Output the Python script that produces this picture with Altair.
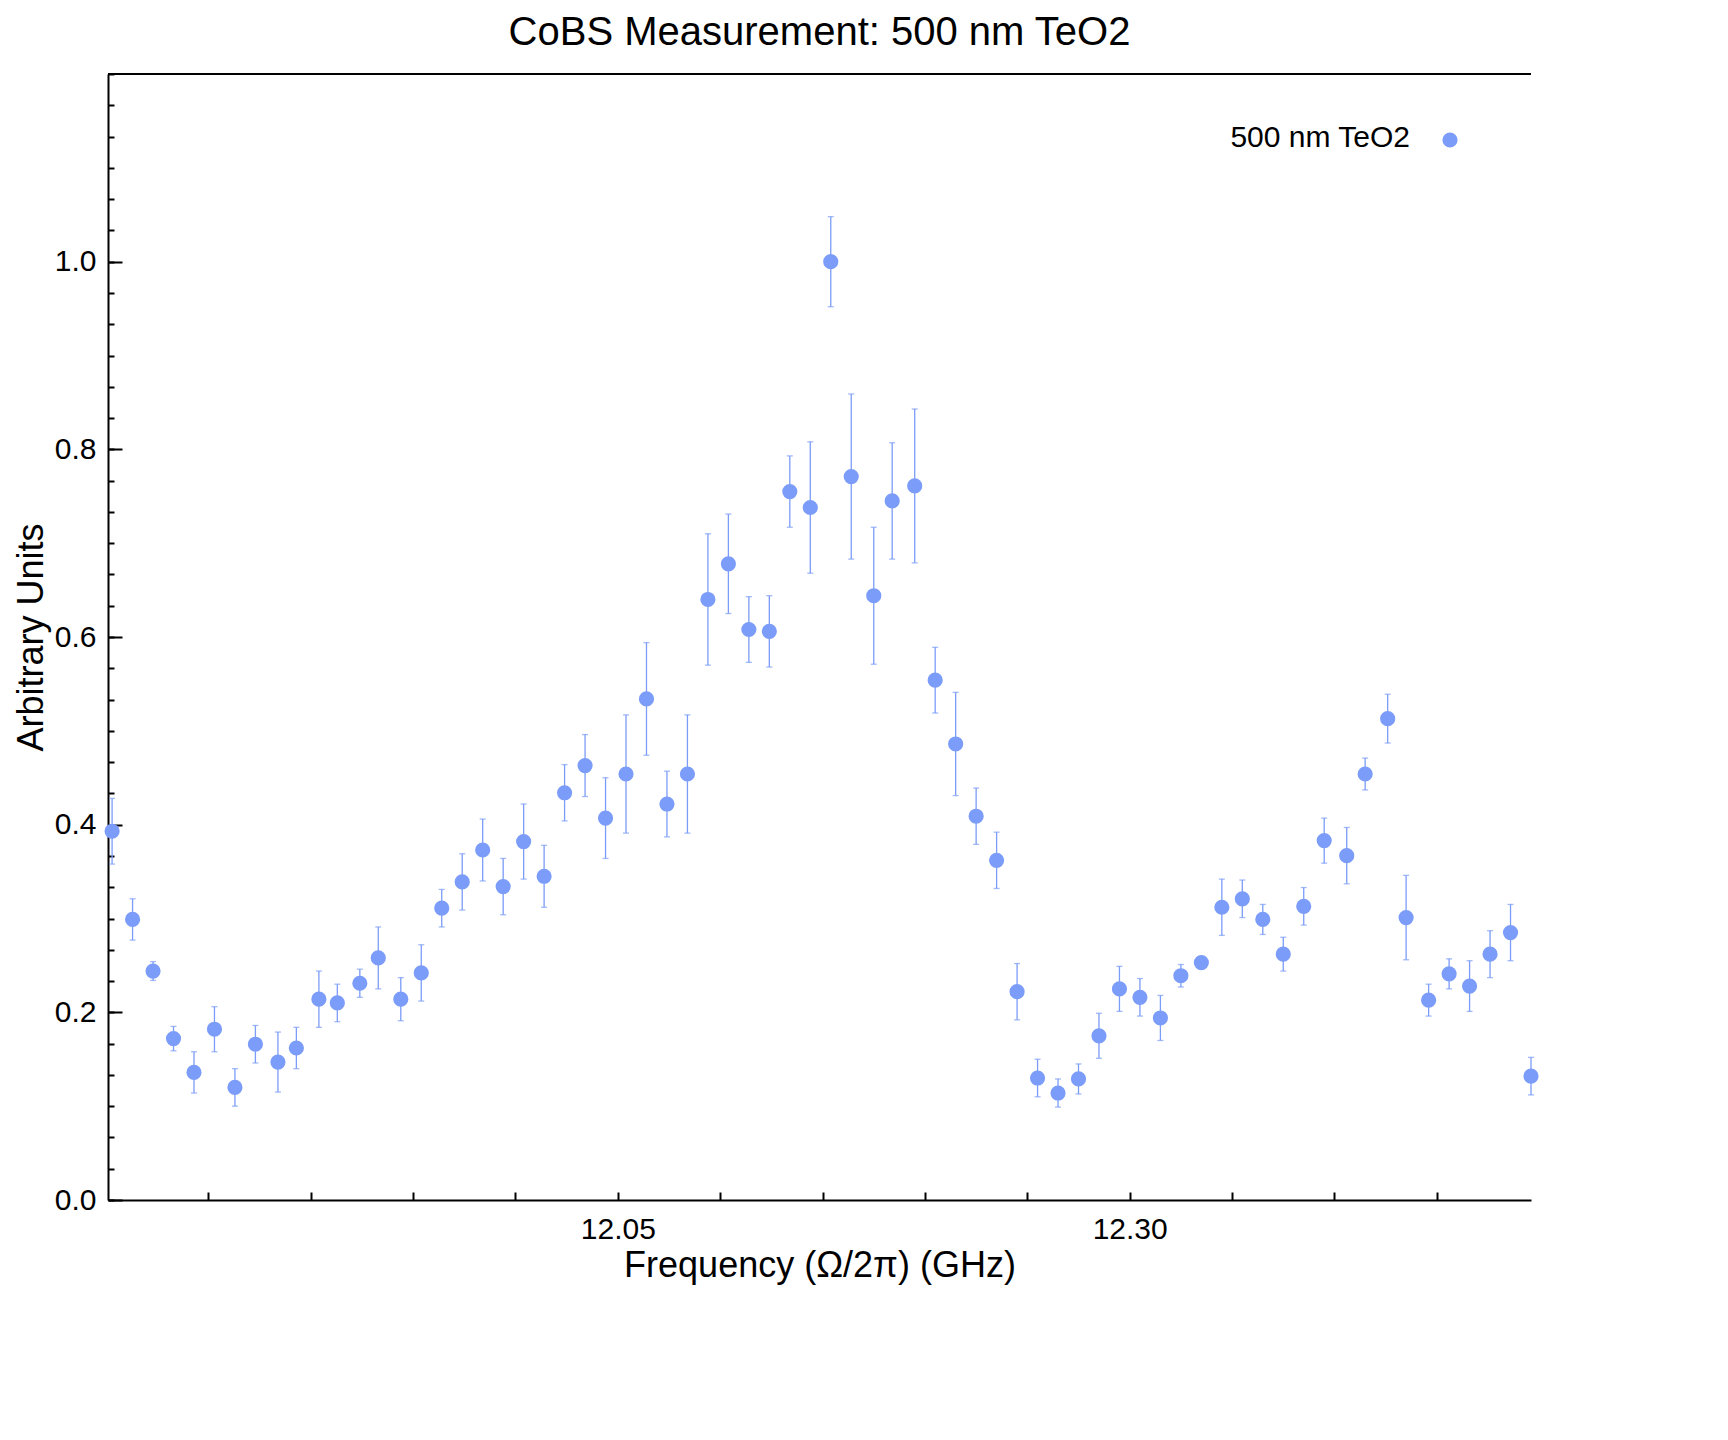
import altair as alt
import pandas as pd

freq = [11.803,11.813,11.823,11.833,11.843,11.853,11.863,11.873,11.884,11.893,
        11.904,11.913,11.924,11.933,11.944,11.954,11.964,11.974,11.984,11.994,
        12.004,12.014,12.024,12.034,12.044,12.054,12.064,12.074,12.084,12.094,
        12.104,12.114,12.124,12.134,12.144,12.154,12.164,12.175,12.184,12.195,
        12.205,12.215,12.225,12.235,12.245,12.255,12.265,12.275,12.285,12.295,
        12.305,12.315,12.325,12.335,12.345,12.355,12.365,12.375,12.385,12.395,
        12.406,12.415,12.426,12.435,12.446,12.456,12.466,12.476,12.486,12.496]
amp = [0.393,0.299,0.244,0.172,0.136,0.182,0.120,0.166,0.147,0.162,
       0.214,0.210,0.231,0.258,0.214,0.242,0.311,0.339,0.373,0.334,
       0.382,0.345,0.434,0.463,0.407,0.454,0.534,0.422,0.454,0.640,
       0.678,0.608,0.606,0.755,0.738,1.000,0.771,0.644,0.745,0.761,
       0.554,0.486,0.409,0.362,0.222,0.130,0.114,0.129,0.175,0.225,
       0.216,0.194,0.239,0.253,0.312,0.321,0.299,0.262,0.313,0.383,
       0.367,0.454,0.513,0.301,0.213,0.241,0.228,0.262,0.285,0.132]
err = [0.035,0.022,0.010,0.013,0.022,0.024,0.020,0.020,0.032,0.022,
       0.030,0.020,0.015,0.033,0.023,0.030,0.020,0.030,0.033,0.030,
       0.040,0.033,0.030,0.033,0.043,0.063,0.060,0.035,0.063,0.070,
       0.053,0.035,0.038,0.038,0.070,0.048,0.088,0.073,0.062,0.082,
       0.035,0.055,0.030,0.030,0.030,0.020,0.015,0.016,0.024,0.024,
       0.020,0.024,0.012,0.005,0.030,0.020,0.016,0.018,0.020,0.024,
       0.030,0.017,0.026,0.045,0.017,0.016,0.027,0.025,0.030,0.020]

y_major = [0.0, 0.2, 0.4, 0.6, 0.8, 1.0]
y_minor = [round(i / 30, 4) for i in range(0, 37)]
x_major = [12.05, 12.30]
x_minor = [round(11.85 + 0.05 * i, 2) for i in range(13)]

df = pd.DataFrame({"f": freq, "a": amp, "lo": [a - e for a, e in zip(amp, err)],
                   "hi": [a + e for a, e in zip(amp, err)]})

COL = "#7b9cf8"
FONT = "Liberation Sans"
xs = alt.Scale(domain=[11.801, 12.496], nice=False, zero=False)
ys = alt.Scale(domain=[0, 1.2], nice=False)

base = alt.Chart(df)

xa = alt.Axis(values=x_major, format=".2f", ticks=False, grid=False, labelFontSize=30,
              titleFontSize=36, titleFontWeight="normal", labelPadding=14, orient="bottom",
              domainColor="black", domainWidth=2, labelColor="black", titleColor="black",
              title="Frequency (Ω/2π) (GHz)", labelFont=FONT, titleFont=FONT)
ya = alt.Axis(values=y_major, format=".1f", ticks=False, grid=False, labelFontSize=30,
              titleFontSize=36, titleFontWeight="normal", labelPadding=12, orient="left",
              domainColor="black", domainWidth=2, labelColor="black", titleColor="black",
              title="Arbitrary Units", labelFont=FONT, titleFont=FONT)

points = base.mark_circle(size=230, color=COL, opacity=1).encode(
    x=alt.X("f:Q", scale=xs, axis=xa), y=alt.Y("a:Q", scale=ys, axis=ya))

tick_ax_x = alt.Axis(values=x_minor, labels=False, domain=False, grid=False, tickSize=8,
                     offset=-8, orient="bottom", title=None, tickColor="black", tickWidth=2)
tick_ax_y = alt.Axis(values=y_minor, labels=False, domain=False, grid=False, tickSize=6,
                     offset=-6, orient="left", title=None, tickColor="black", tickWidth=2)
major_ax_y = alt.Axis(values=y_major, labels=False, domain=False, grid=False, tickSize=14,
                      offset=-14, orient="left", title=None, tickColor="black", tickWidth=2)

bars = base.mark_rule(color=COL, strokeWidth=1.3).encode(
    x=alt.X("f:Q", scale=xs, axis=tick_ax_x),
    y=alt.Y("lo:Q", scale=ys, axis=tick_ax_y), y2="hi:Q")
caps_lo = base.mark_tick(color=COL, orient="horizontal", size=6, thickness=1.3).encode(
    x=alt.X("f:Q", scale=xs, axis=None), y=alt.Y("lo:Q", scale=ys, axis=major_ax_y))
caps_hi = base.mark_tick(color=COL, orient="horizontal", size=6, thickness=1.3).encode(
    x=alt.X("f:Q", scale=xs, axis=None), y=alt.Y("hi:Q", scale=ys, axis=None))

top = alt.Chart(pd.DataFrame({"t": [1.2]})).mark_rule(color="black", strokeWidth=2).encode(
    y=alt.Y("t:Q", scale=ys, axis=None))

leg_text = alt.Chart(pd.DataFrame({"l": ["500 nm TeO2"]})).mark_text(
    align="right", baseline="middle", fontSize=30, font=FONT, color="black").encode(
    x=alt.value(1302), y=alt.value(64), text="l:N")
leg_pt = alt.Chart(pd.DataFrame({"l": ["500 nm TeO2"]})).mark_circle(
    size=230, color=COL, opacity=1).encode(x=alt.value(1342), y=alt.value(66))

chart = alt.layer(bars, caps_lo, caps_hi, top, points, leg_text, leg_pt).resolve_axis(
    x="independent", y="independent").properties(
    width=1423, height=1126,
    title=alt.TitleParams("CoBS Measurement: 500 nm TeO2", fontSize=40, font=FONT,
                          fontWeight="normal", color="black", offset=20)
).configure_view(stroke=None)

chart.save("out.html", embed_options={"renderer": "svg", "actions": False})
